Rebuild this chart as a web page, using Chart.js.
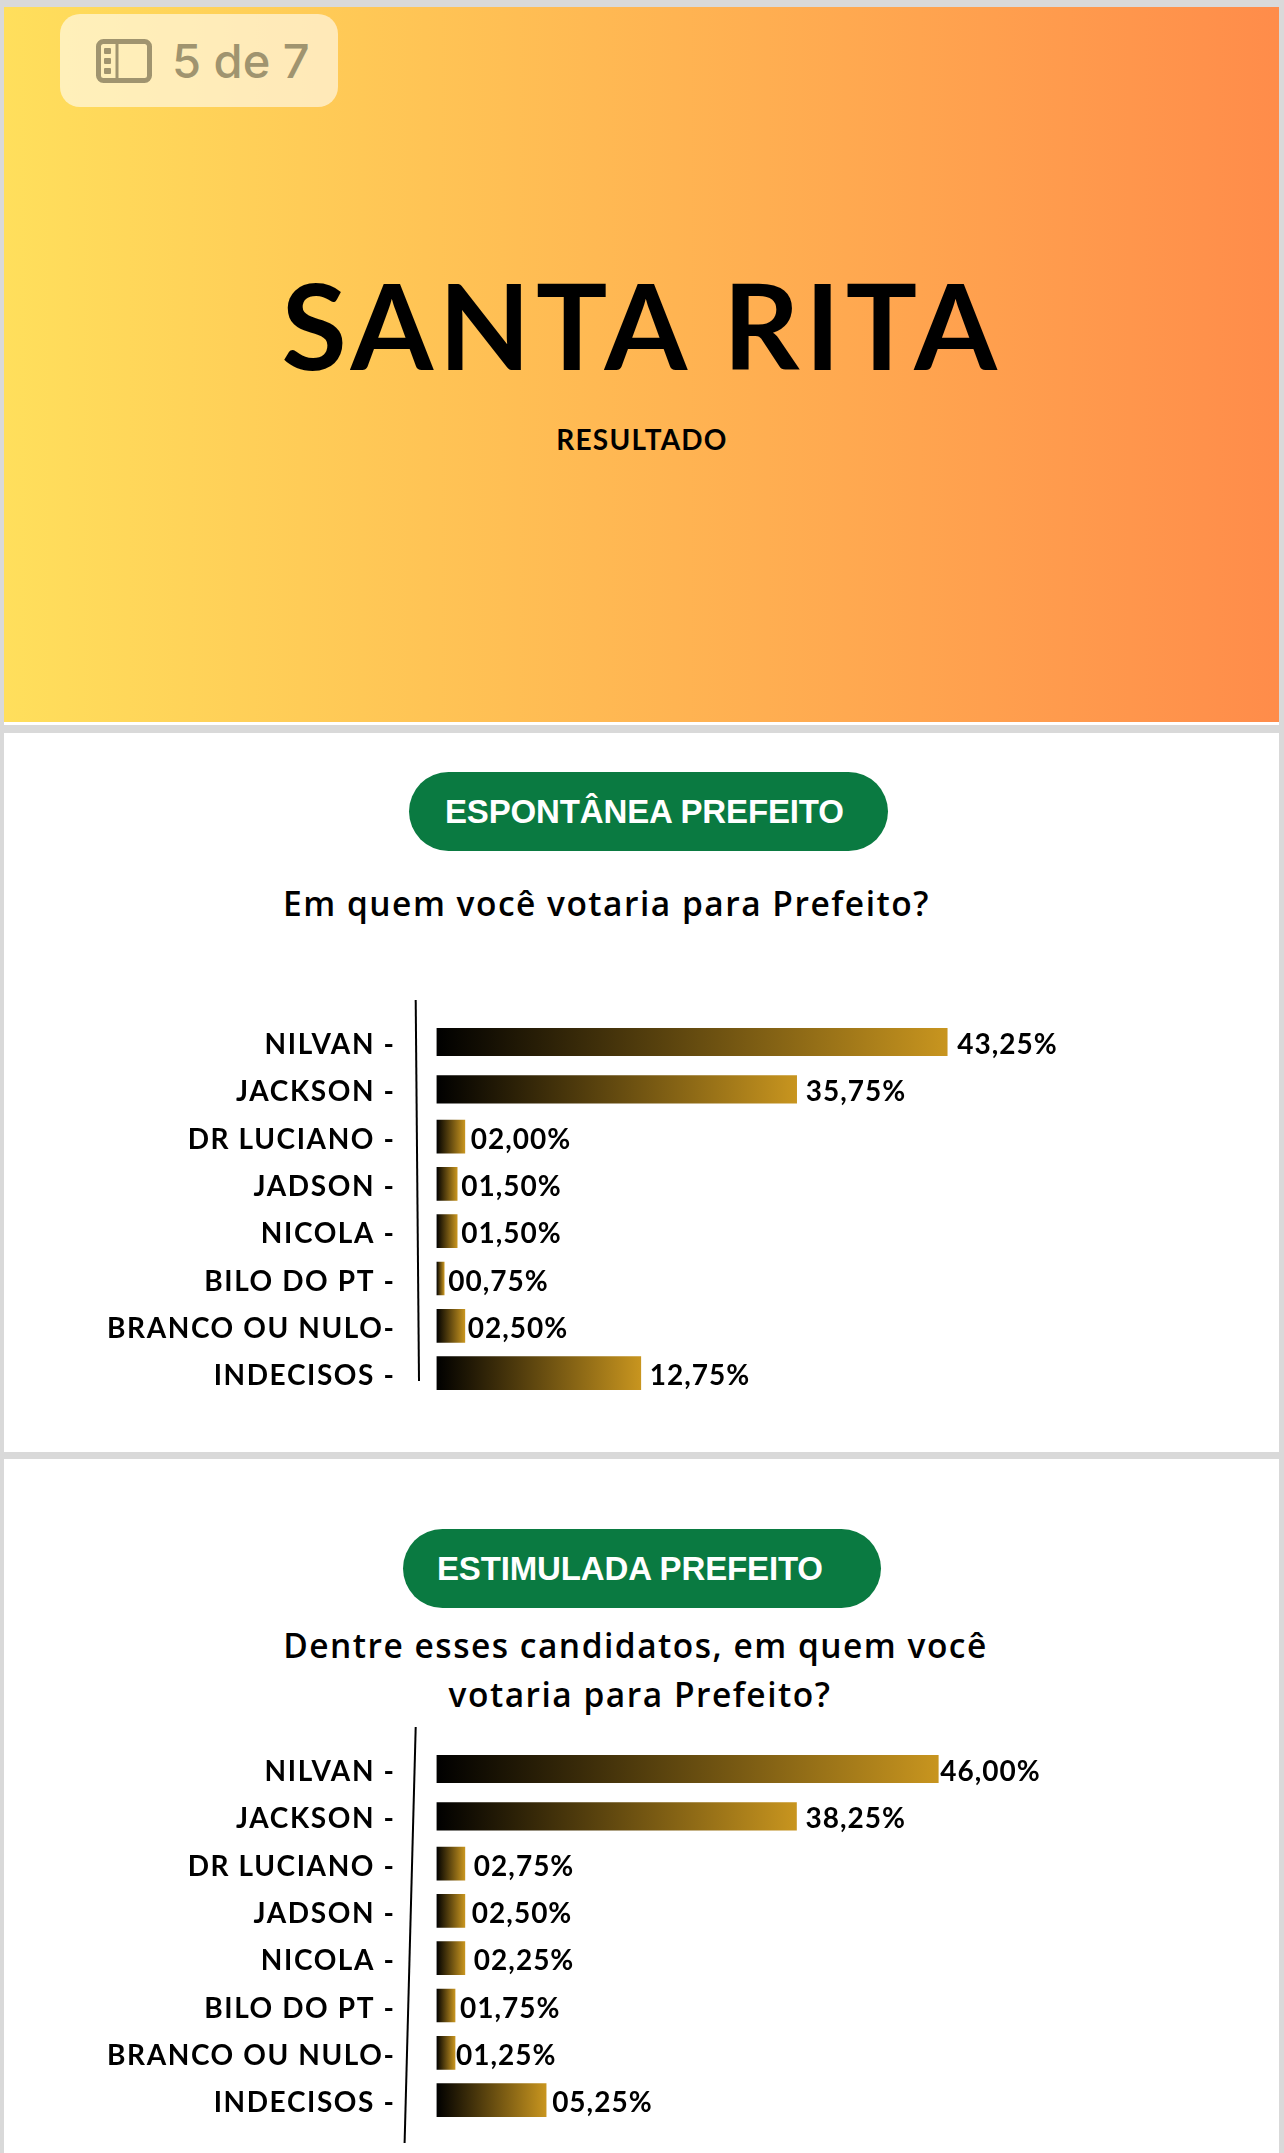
<!DOCTYPE html>
<html lang="pt-BR">
<head>
<meta charset="utf-8">
<title>Santa Rita - Resultado</title>
<script src="https://cdn.jsdelivr.net/npm/chart.js@4"></script>
<style>
  html, body { margin: 0; padding: 0; }
  body { position: relative; width: 1284px; height: 2153px; background: #d9d9d9; overflow: hidden; }
  .slide { position: absolute; left: 4px; width: 1275px; background: #fff; }
  #capa { top: 7px; height: 715px; background: linear-gradient(90deg, #ffdf5c 0%, #ffc455 33%, #ffa950 66%, #ff8c4a 100%); border-bottom: 3px solid #fff; }
  #slide2 { top: 733px; height: 719px; }
  #slide3 { top: 1459px; height: 694px; }
  .txt { position: absolute; white-space: nowrap; color: #000; line-height: 1; }
  .titulo { left: 0; width: 1284px; text-align: center; top: 253px; font: 700 119px Lato, sans-serif; letter-spacing: 5.5px; }
  .sub { left: 0; width: 1284px; text-align: center; top: 422px; font: 700 28px Lato, sans-serif; letter-spacing: 1.2px; }
  .pill { position: absolute; background: #0a7a41; border-radius: 40px; }
  .pilltxt { color: #fff; font: 700 33px "Liberation Sans", Arial, sans-serif; letter-spacing: -0.15px; }
  .perg { font: 600 33.5px "Open Sans", sans-serif; letter-spacing: 1.5px; text-align: center; }
  #badge { position: absolute; left: 60px; top: 14px; width: 278px; height: 93px; border-radius: 20px; background: rgba(255,255,255,.58); }
  #badge svg { position: absolute; left: 36px; top: 25px; }
  #badge span { position: absolute; left: 112px; top: 23px; font: 500 47px Inter, sans-serif; color: #a0946f; line-height: 1; white-space: nowrap; }
  canvas { position: absolute; }
</style>
</head>
<body>
<div class="slide" id="capa"></div>
<div class="slide" id="slide2"></div>
<div class="slide" id="slide3"></div>

<div id="badge">
  <svg width="56" height="44" viewBox="0 0 56 44">
    <rect x="2.5" y="2.5" width="51" height="39" rx="5" fill="none" stroke="#a0946f" stroke-width="5"/>
    <line x1="21" y1="3" x2="21" y2="41" stroke="#a0946f" stroke-width="3"/>
    <rect x="8" y="9" width="7" height="6" rx="1" fill="#a0946f"/>
    <rect x="8" y="19" width="7" height="6" rx="1" fill="#a0946f"/>
    <rect x="8" y="29" width="7" height="6" rx="1" fill="#a0946f"/>
  </svg>
  <span>5 de 7</span>
</div>

<div class="txt titulo">SANTA RITA</div>
<div class="txt sub">RESULTADO</div>

<div class="pill" style="left:409px;top:772px;width:479px;height:79px"></div>
<div class="txt pilltxt" style="left:445px;top:793px">ESPONTÂNEA PREFEITO</div>
<div class="txt perg" style="left:0;width:1213px;top:880px">Em quem você votaria para Prefeito?</div>

<div class="pill" style="left:403px;top:1529px;width:478px;height:79px"></div>
<div class="txt pilltxt" style="left:437px;top:1550px">ESTIMULADA PREFEITO</div>
<div class="txt perg" style="left:0;width:1271px;top:1622px">Dentre esses candidatos, em quem você</div>
<div class="txt perg" style="left:0;width:1280px;top:1671px">votaria para Prefeito?</div>

<canvas id="chartEspontanea" width="1141" height="420" style="left:4px;top:990px"></canvas>
<canvas id="chartEstimulada" width="1087" height="453" style="left:4px;top:1700px"></canvas>

<script>
const categories = ["NILVAN -", "JACKSON -", "DR LUCIANO -", "JADSON -", "NICOLA -", "BILO DO PT -", "BRANCO OU NULO-", "INDECISOS -"]

// printed percentages, as written next to each bar
const espontaneaLabels = ["43,25%", "35,75%", "02,00%", "01,50%", "01,50%", "00,75%", "02,50%", "12,75%"]
const estimuladaLabels = ["46,00%", "38,25%", "02,75%", "02,50%", "02,25%", "01,75%", "01,25%", "05,25%"]

// bar lengths as drawn in the picture (the original slide does not draw them in proportion to the printed numbers)
const espontaneaBars = [43.25, 30.5, 2.4, 1.75, 1.75, 0.65, 2.4, 17.3]
const estimuladaBars = [46, 33, 2.6, 2.6, 2.6, 1.7, 1.7, 10.05]

const FONT = "Lato, sans-serif"

// black to gold across each single bar
function barGradient(context) {
  const x = context.chart.scales.x
  if (!x || context.raw == null) return "#000"
  const x0 = x.getPixelForValue(0)
  const x1 = x.getPixelForValue(context.raw)
  // scales have no size yet on the first pass
  if (!Number.isFinite(x0) || !Number.isFinite(x1)) return "#000"
  const g = context.chart.ctx.createLinearGradient(x0, 0, x1, 0)
  g.addColorStop(0, "#000000")
  g.addColorStop(1, "#c8951f")
  return g
}

const slideTextPlugin = {
  id: "slideText",
  beforeDraw(chart) {
    chart.ctx.letterSpacing = "1.6px"
  },
  afterDatasetsDraw(chart, args, opts) {
    const ctx = chart.ctx
    ctx.save()
    ctx.letterSpacing = "1px"
    ctx.font = "700 28px " + FONT
    ctx.fillStyle = "#000"
    ctx.textBaseline = "middle"
    ctx.textAlign = "left"
    chart.data.datasets.forEach((ds, d) => {
      chart.getDatasetMeta(d).data.forEach((bar, i) => {
        if (ds.data[i] == null) return
        ctx.fillText(opts.labels[i], bar.x + opts.gaps[i], bar.y + 3)
      })
    })
    // the hand drawn, slightly leaning axis line
    ctx.strokeStyle = "#000"
    ctx.lineWidth = 2
    ctx.beginPath()
    ctx.moveTo(opts.axis[0], opts.axis[1])
    ctx.lineTo(opts.axis[2], opts.axis[3])
    ctx.stroke()
    ctx.restore()
  },
}

function buildChart(id, bars, labels, gaps, axis, padTop, padBottom) {
  new Chart(document.getElementById(id), {
    type: "bar",
    plugins: [slideTextPlugin],
    data: {
      labels: categories,
      datasets: [
        { data: bars.map((v, i) => (i < 2 ? v : null)), backgroundColor: barGradient, barThickness: 27.5 },
        { data: bars.map((v, i) => (i < 2 ? null : v)), backgroundColor: barGradient, barThickness: 33 },
      ],
    },
    options: {
      indexAxis: "y",
      responsive: false,
      animation: false,
      devicePixelRatio: 1,
      layout: { autoPadding: false, padding: { top: padTop, bottom: padBottom, left: 0, right: 0 } },
      plugins: {
        legend: { display: false },
        tooltip: { enabled: false },
        slideText: { labels: labels, gaps: gaps, axis: axis },
      },
      scales: {
        x: { display: false, stacked: true, min: 0, max: 60 },
        y: {
          stacked: true,
          afterFit: (scale) => {
            scale.width = 432.5
            // ticks.padding also eats into the band height, drop that
            scale.paddingTop = 0
            scale.paddingBottom = 0
          },
          border: { display: false },
          grid: { display: false, drawTicks: false },
          ticks: {
            color: "#000",
            padding: 41,
            labelOffset: 3,
            autoSkip: false,
            font: { family: FONT, size: 28, weight: "700" },
          },
        },
      },
    },
  })
}

buildChart("chartEspontanea", espontaneaBars, espontaneaLabels,
  [10, 9, 6, 4, 4, 4, 3, 9], [411.7, 10, 415, 391], 28.35, 13.25)
buildChart("chartEstimulada", estimuladaBars, estimuladaLabels,
  [2, 9, 9, 7, 9, 5, 1, 6], [411.7, 27, 400.6, 443], 45.35, 29.25)
</script>
</body>
</html>
